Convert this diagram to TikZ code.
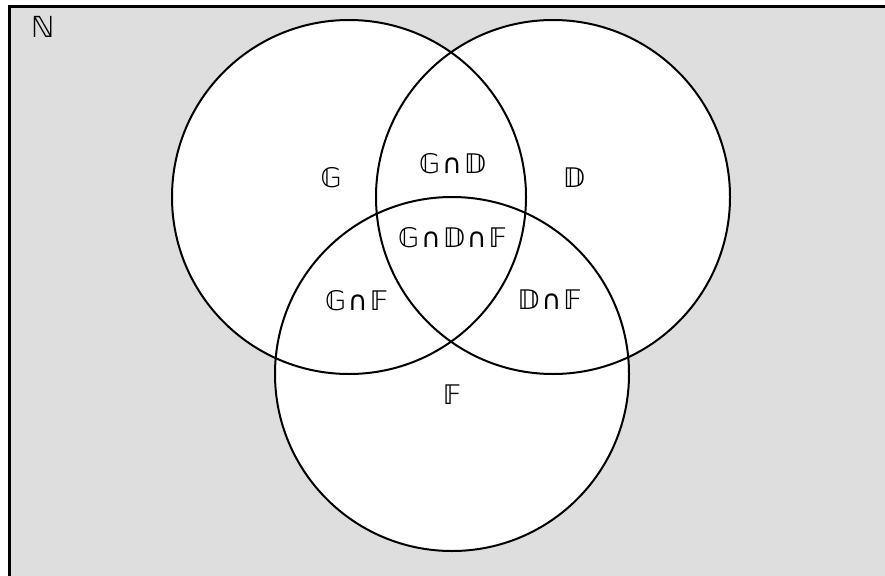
\documentclass[tikz,border=0pt]{standalone}
\usepackage{fontspec}
\newfontfamily\djv{DejaVu Sans}
\newcommand\capsym{\kern2pt∩\kern2pt}
\begin{document}
\begin{tikzpicture}[x=1pt,y=-1pt,
  setcircle/.style={line width=2pt},
  lbl/.style={font=\djv\fontsize{27}{30}\selectfont, inner sep=0pt}]
\useasboundingbox (0,0) rectangle (885,575);
\clip (0,0) rectangle (885,575);
\draw[fill={rgb,255:red,222;green,222;blue,222}, line width=2.4pt] (9.5,6.5) rectangle (900,590);
\fill[white] (349,197) circle (177) (553,197) circle (177) (452,374) circle (177);
\draw[setcircle] (349,197) circle (177);
\draw[setcircle] (553,197) circle (177);
\draw[setcircle] (452,374) circle (177);
\node[lbl, font=\djv\fontsize{29}{32}\selectfont] (n) at (43,27) {ℕ};
\node[lbl] (g) at (331,178) {𝔾};
\node[lbl] (d) at (574,178) {𝔻};
\node[lbl] (f) at (452,395) {𝔽};
\node[lbl] (gd) at (452.5,164) {𝔾\capsym{}𝔻};
\node[lbl] (gdf) at (452.5,238) {𝔾\capsym{}𝔻\capsym{}𝔽};
\node[lbl] (gf) at (356.5,301) {𝔾\capsym{}𝔽};
\node[lbl] (df) at (549.5,299.5) {𝔻\capsym{}𝔽};
\end{tikzpicture}
\end{document}
